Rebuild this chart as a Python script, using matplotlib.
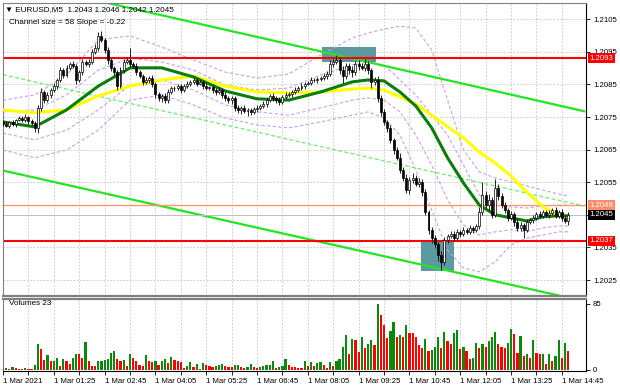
import numpy as np
import matplotlib
matplotlib.use('Agg')
import matplotlib.pyplot as plt
from matplotlib.patches import Rectangle
import matplotlib.transforms as mtransforms

plt.rcParams['font.family'] = ['Liberation Sans', 'DejaVu Sans']

# --- EURUSD M5 closes, one per bar (bar 0 = start of 1 Mar 2021)
closes = [
    1.20729, 1.20723, 1.20735, 1.20729, 1.20741, 1.20747, 1.20741, 1.20750, 1.20738, 1.20732,
    1.20717, 1.20778, 1.20827, 1.20802, 1.20818, 1.20833, 1.20845, 1.20864, 1.20894, 1.20879,
    1.20901, 1.20913, 1.20907, 1.20864, 1.20888, 1.20919, 1.20913, 1.20919, 1.20950, 1.20962,
    1.20998, 1.20987, 1.20956, 1.20925, 1.20901, 1.20888, 1.20845, 1.20894, 1.20919, 1.20925,
    1.20913, 1.20907, 1.20888, 1.20876, 1.20858, 1.20864, 1.20870, 1.20852, 1.20821, 1.20809,
    1.20815, 1.20802, 1.20827, 1.20839, 1.20839, 1.20845, 1.20833, 1.20845, 1.20852, 1.20858,
    1.20864, 1.20852, 1.20858, 1.20845, 1.20839, 1.20842, 1.20833, 1.20827, 1.20833, 1.20818,
    1.20809, 1.20802, 1.20809, 1.20778, 1.20772, 1.20778, 1.20769, 1.20772, 1.20766, 1.20775,
    1.20778, 1.20784, 1.20790, 1.20802, 1.20815, 1.20809, 1.20802, 1.20796, 1.20812, 1.20818,
    1.20821, 1.20827, 1.20833, 1.20839, 1.20845, 1.20852, 1.20855, 1.20864, 1.20864, 1.20867,
    1.20870, 1.20876, 1.20882, 1.20913, 1.20919, 1.20925, 1.20894, 1.20876, 1.20907, 1.20894,
    1.20888, 1.20913, 1.20907, 1.20901, 1.20913, 1.20894, 1.20858, 1.20864, 1.20809, 1.20766,
    1.20735, 1.20717, 1.20680, 1.20649, 1.20625, 1.20588, 1.20563, 1.20526, 1.20557, 1.20563,
    1.20545, 1.20551, 1.20520, 1.20459, 1.20404, 1.20379, 1.20361, 1.20327, 1.20306, 1.20373,
    1.20385, 1.20392, 1.20379, 1.20398, 1.20392, 1.20404, 1.20398, 1.20410, 1.20404, 1.20416,
    1.20459, 1.20511, 1.20480, 1.20496, 1.20450, 1.20532, 1.20508, 1.20480, 1.20465, 1.20441,
    1.20453, 1.20428, 1.20410, 1.20419, 1.20404, 1.20428, 1.20434, 1.20441, 1.20453, 1.20447,
    1.20459, 1.20450, 1.20456, 1.20465, 1.20447, 1.20459, 1.20441, 1.20430, 1.20450,
]
first_open = 1.20735

# wicks above / below the body, in points (0.00001)
upper_wick = [
    5, 8, 4, 6, 3, 7, 5, 9, 4, 6,
    5, 10, 12, 6, 8, 5, 9, 7, 10, 6,
    8, 6, 9, 5, 7, 10, 6, 8, 9, 12,
    12, 15, 6, 10, 5, 7, 6, 9, 8, 10,
    37, 6, 8, 5, 7, 9, 6, 8, 5, 7,
    6, 9, 8, 5, 7, 6, 8, 5, 9, 6,
    7, 5, 8, 6, 9, 4, 7, 5, 8, 6,
    9, 5, 7, 6, 8, 5, 9, 6, 7, 5,
    8, 6, 9, 5, 7, 8, 6, 9, 5, 10,
    7, 6, 8, 5, 9, 7, 6, 8, 5, 7,
    6, 8, 9, 12, 10, 14, 8, 12, 10, 8,
    12, 9, 11, 8, 14, 10, 8, 9, 12, 10,
    8, 6, 9, 7, 10, 15, 8, 12, 10, 14,
    9, 12, 8, 10, 6, 9, 8, 7, 12, 8,
    6, 9, 7, 8, 5, 9, 6, 8, 5, 7,
    15, 40, 12, 18, 10, 28, 12, 8, 10, 7,
    9, 6, 8, 10, 7, 9, 6, 8, 5, 9,
    7, 6, 8, 5, 9, 6, 8, 7, 10,
]
lower_wick = [
    6, 4, 7, 5, 8, 4, 6, 5, 9, 6,
    12, 15, 8, 10, 6, 8, 5, 9, 7, 10,
    6, 8, 5, 12, 7, 9, 6, 8, 5, 7,
    9, 6, 8, 12, 10, 8, 12, 6, 9, 5,
    8, 6, 9, 7, 10, 6, 8, 9, 12, 10,
    14, 10, 8, 6, 9, 7, 8, 6, 5, 7,
    6, 8, 5, 9, 6, 7, 8, 10, 6, 8,
    10, 8, 12, 9, 10, 12, 8, 15, 10, 8,
    9, 7, 6, 8, 5, 9, 8, 10, 6, 7,
    6, 8, 5, 7, 6, 8, 5, 7, 6, 8,
    7, 6, 8, 6, 9, 7, 12, 21, 10, 12,
    15, 10, 12, 8, 10, 12, 20, 10, 14, 12,
    10, 14, 9, 12, 8, 10, 9, 8, 12, 10,
    8, 10, 12, 9, 14, 15, 12, 18, 25, 10,
    8, 7, 10, 6, 9, 7, 8, 6, 9, 7,
    8, 10, 9, 15, 10, 8, 12, 10, 9, 11,
    8, 12, 10, 9, 25, 8, 7, 9, 6, 8,
    7, 6, 9, 5, 8, 7, 9, 6, 10,
]

volumes = [
    1, 3, 1, 4, 2, 1, 1, 3, 1, 1,
    6, 33, 27, 13, 19, 11, 12, 15, 5, 14,
    11, 8, 16, 21, 20, 15, 36, 12, 5, 5,
    11, 12, 13, 14, 22, 24, 14, 12, 13, 5,
    21, 16, 12, 7, 5, 19, 11, 10, 11, 6,
    11, 14, 9, 17, 13, 11, 10, 3, 5, 10,
    4, 8, 1, 9, 6, 5, 4, 5, 6, 8,
    5, 4, 4, 6, 7, 4, 3, 4, 8, 4,
    2, 4, 5, 6, 7, 11, 3, 4, 5, 14,
    6, 4, 4, 3, 3, 11, 5, 10, 5, 9,
    10, 6, 3, 10, 5, 12, 14, 30, 45, 20,
    40, 38, 23, 42, 28, 34, 39, 32, 85, 71,
    58, 41, 50, 62, 42, 45, 42, 58, 47, 47,
    42, 32, 28, 40, 24, 26, 30, 42, 28, 49,
    37, 34, 47, 51, 27, 29, 25, 14, 16, 35,
    28, 33, 30, 37, 42, 49, 34, 30, 28, 35,
    53, 46, 22, 44, 18, 20, 16, 38, 22, 20,
    21, 8, 20, 11, 18, 39, 16, 35, 24,
]

# indicator lines read at these bars
line_bars = [0, 10, 20, 30, 40, 50, 60, 70, 80, 90, 100, 110, 115, 120, 125,
             130, 135, 140, 145, 150, 155, 160, 165, 170, 175, 178]
ma_yellow = [1.20772, 1.20763, 1.20772, 1.20815, 1.20845, 1.20864, 1.20876, 1.20845,
             1.20827, 1.20824, 1.20827, 1.20836, 1.20839, 1.20833, 1.20812, 1.20790,
             1.20756, 1.20720, 1.20686, 1.20643, 1.20609, 1.20569, 1.20520, 1.20474,
             1.20450, 1.20447]
ma_green = [1.20735, 1.20720, 1.20772, 1.20845, 1.20901, 1.20901, 1.20873, 1.20830,
            1.20806, 1.20802, 1.20827, 1.20858, 1.20864, 1.20861, 1.20827, 1.20784,
            1.20717, 1.20625, 1.20548, 1.20480, 1.20450, 1.20441, 1.20431, 1.20444,
            1.20447, 1.20447]
band_upper_outer = [1.20802, 1.20818, 1.20879, 1.20987, 1.20999, 1.20965, 1.20925, 1.20888,
                    1.20870, 1.20882, 1.20940, 1.20993, 1.21008, 1.21020, 1.21029, 1.21023,
                    1.20956, 1.20802, 1.20649, 1.20582, 1.20563, 1.20551, 1.20539, 1.20526,
                    1.20514, 1.20508]
band_upper_inner = [1.20766, 1.20772, 1.20818, 1.20894, 1.20931, 1.20919, 1.20894, 1.20848,
                    1.20833, 1.20839, 1.20879, 1.20910, 1.20919, 1.20910, 1.20864, 1.20818,
                    1.20756, 1.20695, 1.20603, 1.20511, 1.20480, 1.20474, 1.20471, 1.20477,
                    1.20480, 1.20480]
band_lower_inner = [1.20701, 1.20680, 1.20710, 1.20772, 1.20848, 1.20864, 1.20833, 1.20787,
                    1.20766, 1.20756, 1.20778, 1.20802, 1.20809, 1.20802, 1.20766, 1.20695,
                    1.20603, 1.20496, 1.20419, 1.20388, 1.20398, 1.20404, 1.20398, 1.20410,
                    1.20416, 1.20416]
band_lower_outer = [1.20649, 1.20625, 1.20649, 1.20710, 1.20802, 1.20818, 1.20787, 1.20747,
                    1.20726, 1.20717, 1.20735, 1.20756, 1.20766, 1.20747, 1.20695, 1.20588,
                    1.20465, 1.20342, 1.20287, 1.20275, 1.20306, 1.20358, 1.20379, 1.20388,
                    1.20398, 1.20398]

# regression channel (bar, price) end points
channel_bars = [0, 183]
channel_upper = [1.21173, 1.20768]
channel_middle = [1.20880, 1.20477]
channel_lower = [1.20586, 1.20185]

# horizontal levels
level_high = 1.2093
level_low = 1.2037
level_mid = 1.2048
last_price = 1.2045

# highlighted zones: (bar from, bar to, price low, price high)
zones = [(100.5, 117.5, 1.20919, 1.20965), (131.7, 142.1, 1.20278, 1.20373)]

price_ticks = [1.2025, 1.2035, 1.2045, 1.2055, 1.2065, 1.2075, 1.2085, 1.2095, 1.2105]
time_labels = ['1 Mar 2021', '1 Mar 01:25', '1 Mar 02:45', '1 Mar 04:05', '1 Mar 05:25',
               '1 Mar 06:45', '1 Mar 08:05', '1 Mar 09:25', '1 Mar 10:45', '1 Mar 12:05',
               '1 Mar 13:25', '1 Mar 14:45']

header = '\u25BC EURUSD,M5  1.2043 1.2046 1.2042 1.2045'
channel_text = 'Channel size = 58 Slope = -0.22'

# ---------------------------------------------------------------
closes = np.array(closes)
bars = np.arange(len(closes))
opens = np.concatenate([[first_open], closes[:-1]])
highs = np.maximum(opens, closes) + np.array(upper_wick) * 1e-5
lows = np.minimum(opens, closes) - np.array(lower_wick) * 1e-5
vol = np.array(volumes)

W, H = 620, 388
def px_rect(x0, y0, x1, y1):
    return [x0 / W, 1 - y1 / H, (x1 - x0) / W, (y1 - y0) / H]

fig = plt.figure(figsize=(6.2, 3.88), dpi=100)
ax = fig.add_axes(px_rect(3, 3, 586, 296))
axv = fig.add_axes(px_rect(3, 299, 586, 371))

xlim = (0.16, 183.6)
grid_kw = dict(color='#c4c4c4', lw=0.6, ls=(0, (2, 2)))
fs = 5.6

# main panel ----------------------------------------------------
ax.set_xlim(*xlim)
ax.set_ylim(1.20201, 1.21100)
ax.set_xticks(np.arange(0, 184, 8))
ax.tick_params(axis='x', length=0, labelbottom=False)
ax.grid(True, **grid_kw)
ax.set_axisbelow(True)
ax.yaxis.tick_right()
ax.set_yticks(price_ticks)
# the scale label under the current-price tag is hidden by it
ax.set_yticklabels(['' if abs(p - last_price) < 1e-6 else '%.4f' % p for p in price_ticks])
ax.tick_params(axis='y', length=3, width=0.6, labelsize=fs, pad=2)

for k0, k1, p0, p1 in zones:
    ax.add_patch(Rectangle((k0, p0), k1 - k0, p1 - p0, facecolor='#5b9aa0',
                           edgecolor='none', zorder=1))

band_kw = dict(color='#c8a0e6', lw=0.8, ls=(0, (3, 2)), zorder=2)
ax.plot(line_bars, band_upper_outer, **band_kw)
ax.plot(line_bars, band_upper_inner, **band_kw)
ax.plot(line_bars, band_lower_inner, **band_kw)
ax.plot(line_bars, band_lower_outer, **band_kw)

ax.plot(channel_bars, channel_upper, color='#22e622', lw=1.6, zorder=2)
ax.plot(channel_bars, channel_lower, color='#22e622', lw=1.6, zorder=2)
ax.plot(channel_bars, channel_middle, color='#66ee66', lw=0.9, ls=(0, (3, 2)), zorder=2)

ax.axhline(level_mid, color='#ff9966', lw=1.0, zorder=2)
ax.axhline(last_price, color='#c0c0c0', lw=0.7, zorder=2)
ax.axhline(level_high, color='#ff0000', lw=1.5, zorder=2)
ax.axhline(level_low, color='#ff0000', lw=1.5, zorder=2)

ax.plot(line_bars, ma_yellow, color='#ffff00', lw=2.2, zorder=3, solid_capstyle='round')
ax.plot(line_bars, ma_green, color='#0a7d0a', lw=2.2, zorder=3, solid_capstyle='round')

up = closes >= opens
ax.vlines(bars, lows, highs, color='black', lw=0.6, zorder=4)
ax.bar(bars[up], (closes - opens)[up], bottom=opens[up], width=0.62,
       color='white', edgecolor='black', linewidth=0.5, zorder=5)
ax.bar(bars[~up], (opens - closes)[~up], bottom=closes[~up], width=0.62,
       color='black', edgecolor='black', linewidth=0.5, zorder=5)

# price tags on the right scale
blend = mtransforms.blended_transform_factory(ax.transAxes, ax.transData)
for price, bg in [(level_high, '#ff0000'), (level_low, '#ff0000'),
                  (level_mid, '#ff8c66'), (last_price, '#000000')]:
    ax.text(1.006, price, '%.4f' % price, transform=blend, fontsize=fs, color='white',
            va='center', ha='left', zorder=10,
            bbox=dict(boxstyle='square,pad=0.2', fc=bg, ec='none'))

ax.text(0.6, 1.21080, header, fontsize=fs + 0.3, va='center', ha='left', color='black')
ax.text(1.8, 1.21041, channel_text, fontsize=fs + 0.3, va='center', ha='left', color='black')

for s in ['left', 'top', 'bottom']:
    ax.spines[s].set_color('#808080')
    ax.spines[s].set_linewidth(0.8)
ax.spines['right'].set_color('black')
ax.spines['right'].set_linewidth(0.8)
ax.spines['bottom'].set_linewidth(1.6)

# volume panel --------------------------------------------------
axv.set_xlim(*xlim)
axv.set_ylim(-1.3, 91.3)
vol_color = ['#ff0000'] + ['#0a8a0a' if vol[i] > vol[i - 1] else '#ff0000'
                           for i in range(1, len(vol))]
axv.bar(bars, vol, width=0.7, color=vol_color, zorder=3)
axv.set_xticks(np.arange(0, 184, 8))
axv.xaxis.grid(True, **grid_kw)
axv.set_axisbelow(True)
axv.set_xticklabels([time_labels[i // 2] if i % 2 == 0 else ''
                     for i in range(len(np.arange(0, 184, 8)))])
for lbl in axv.get_xticklabels():
    lbl.set_ha('left')
axv.tick_params(axis='x', length=3, width=0.6, labelsize=fs, pad=2)
axv.yaxis.tick_right()
axv.set_yticks([0, 85])
axv.set_yticklabels(['0', '85'])
axv.tick_params(axis='y', length=3, width=0.6, labelsize=fs, pad=2)
axv.text(2, 86, 'Volumes 23', fontsize=fs + 0.3, va='center', ha='left')
for s in ['left', 'top']:
    axv.spines[s].set_color('#808080')
    axv.spines[s].set_linewidth(0.8)
axv.spines['top'].set_linewidth(1.6)
axv.spines['right'].set_color('black')
axv.spines['bottom'].set_color('black')

plt.savefig('out.png', dpi=100)
